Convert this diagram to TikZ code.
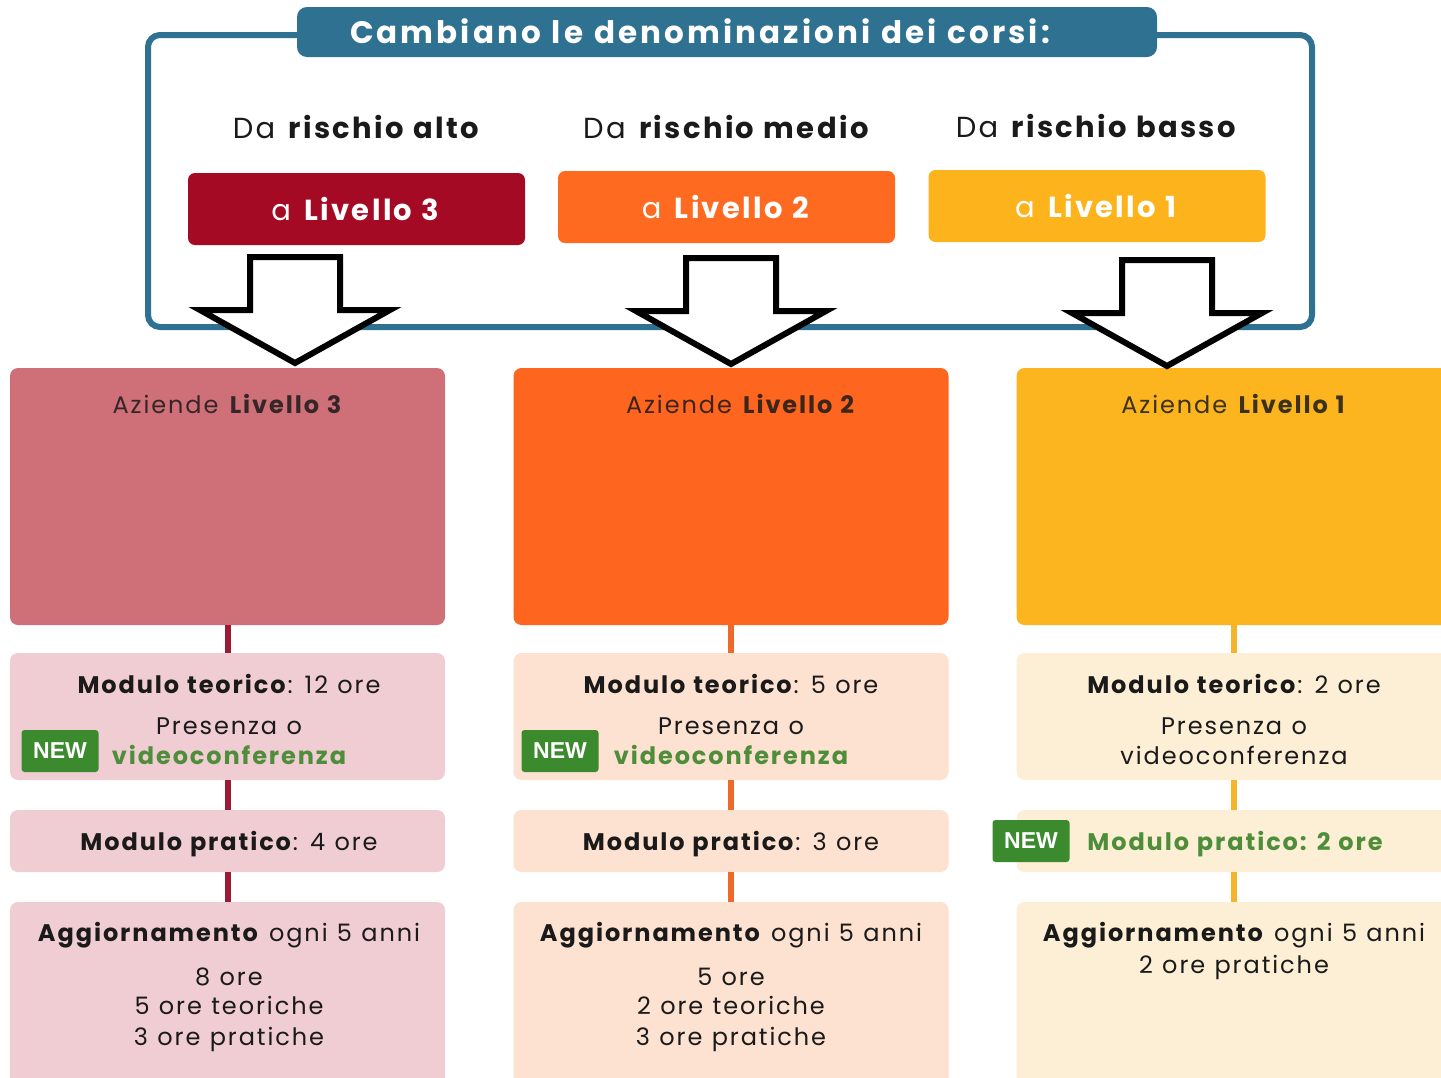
\documentclass[tikz,border=0pt]{standalone}
\usepackage{fontspec}
\setmainfont{Poppins}[LetterSpace=8, WordSpace=1.12]
\newfontfamily\badgefont{Liberation Sans}
\definecolor{frameblue}{HTML}{2E7191}
\definecolor{lvlred}{HTML}{A50A24}
\definecolor{lvlorange}{HTML}{FE6A20}
\definecolor{lvlyellow}{HTML}{FDB31C}
\definecolor{bigA}{HTML}{CF6F78}
\definecolor{bigB}{HTML}{FE651E}
\definecolor{bigC}{HTML}{FDB51F}
\definecolor{liteA}{HTML}{F0CDD3}
\definecolor{liteB}{HTML}{FDE1D1}
\definecolor{liteC}{HTML}{FDEFD6}
\definecolor{connA}{HTML}{9C1A33}
\definecolor{connB}{HTML}{EE6A2A}
\definecolor{connC}{HTML}{F5B52A}
\definecolor{newgreen}{HTML}{3B8A2E}
\definecolor{greentext}{HTML}{4E8E3A}
\definecolor{ink}{HTML}{1A1A1A}
\begin{document}
\begin{tikzpicture}[x=1pt,y=-1pt,
  lvl/.style={rounded corners=7pt, minimum width=337pt, minimum height=72pt, inner sep=0pt, text=white, font=\fontsize{29}{31}\selectfont},
  big/.style={rounded corners=8pt, minimum width=435pt, minimum height=257pt, inner sep=0pt},
  lite/.style={rounded corners=8pt, minimum width=435pt, inner sep=0pt},
  conn/.style={line width=6pt},
  txt/.style={inner sep=0pt, anchor=base, text=ink, font=\fontsize{24}{28}\selectfont},
  head/.style={inner sep=0pt, anchor=base, text=ink, font=\fontsize{29}{32}\selectfont},
  newb/.style={fill=newgreen, rounded corners=3pt, minimum width=77pt, minimum height=42pt, inner sep=0pt, text=white, font=\badgefont\bfseries\fontsize{23}{26}\selectfont},
  bigarrow/.style={draw=black, fill=white, line width=6pt, line join=miter},
]
\useasboundingbox[fill=white] (0,0) rectangle (1441,1077);

% frame and title
\draw[frameblue, line width=6pt, rounded corners=12pt] (148,35) rectangle (1312,327);
\node[fill=frameblue, rounded corners=10pt, minimum width=860pt, minimum height=50pt, inner sep=0pt] (titlebar) at (727,32) {};
\node[inner sep=0pt, anchor=base, text=white, font=\bfseries\fontsize{31}{33}\selectfont\addfontfeatures{LetterSpace=10}] (title) at (700,43) {Cambiano le denominazioni dei corsi:};

% headings
\node[head] (h1) at (357,138) {Da \textbf{rischio alto}};
\node[head] (h2) at (727,138) {Da \textbf{rischio medio}};
\node[head] (h3) at (1097,137) {Da \textbf{rischio basso}};

% level boxes
\node[lvl, fill=lvlred] (l3) at (356.5,209) {a \textbf{Livello 3}};
\node[lvl, fill=lvlorange] (l2) at (726.5,207) {a \textbf{Livello 2}};
\node[lvl, fill=lvlyellow] (l1) at (1097,206) {a \textbf{Livello 1}};

% big boxes
\node[big, fill=bigA] (bA) at (227.5,496.5) {};
\node[big, fill=bigB] (bB) at (731,496.5) {};
\node[big, fill=bigC] (bC) at (1234,496.5) {};
\node[txt, text=ink!85!bigA] (tA) at (228,413) {Aziende \textbf{Livello 3}};
\node[txt, text=ink!85!bigB] (tB) at (741,413) {Aziende \textbf{Livello 2}};
\node[txt, text=ink!85!bigC] (tC) at (1234,413) {Aziende \textbf{Livello 1}};

% arrows
\foreach \cx/\tp in {295/257, 731/258, 1167/260}
  \draw[bigarrow] (\cx-45,\tp) -- ++(90,0) -- ++(0,53) -- ++(50,0) -- (\cx,\tp+106) -- (\cx-95,\tp+53) -- ++(50,0) -- cycle;

% light boxes
\foreach \c/\x in {A/227.5, B/731, C/1234} {
  \node[lite, fill=lite\c, minimum height=127pt] (teo\c) at (\x,716.5) {};
  \node[lite, fill=lite\c, minimum height=62pt] (pra\c) at (\x,841) {};
  \node[lite, fill=lite\c, minimum height=188pt] (agg\c) at (\x,996) {};
}

% connectors
\foreach \c in {A,B,C} {
  \draw[conn, conn\c] (b\c.south) -- (teo\c.north);
  \draw[conn, conn\c] (teo\c.south) -- (pra\c.north);
  \draw[conn, conn\c] (pra\c.south) -- (agg\c.north);
}

% column 1
\node[txt] (a1) at (229,693) {\textbf{Modulo teorico}: 12 ore};
\node[txt] (a2) at (229,734) {Presenza o};
\node[txt, text=greentext, font=\bfseries\fontsize{24}{28}\selectfont] (a3) at (229,764) {videoconferenza};
\node[newb] (na) at (60,751) {NEW};
\node[txt] (a4) at (229,850) {\textbf{Modulo pratico}: 4 ore};
\node[txt] (a5) at (229,941) {\textbf{Aggiornamento} ogni 5 anni};
\node[txt] (a6) at (229,985) {8 ore};
\node[txt] (a7) at (229,1014) {5 ore teoriche};
\node[txt] (a8) at (229,1045) {3 ore pratiche};

% column 2
\node[txt] (b1) at (731,693) {\textbf{Modulo teorico}: 5 ore};
\node[txt] (b2) at (731,734) {Presenza o};
\node[txt, text=greentext, font=\bfseries\fontsize{24}{28}\selectfont] (b3) at (731,764) {videoconferenza};
\node[newb] (nb) at (560,751) {NEW};
\node[txt] (b4) at (731,850) {\textbf{Modulo pratico}: 3 ore};
\node[txt] (b5) at (731,941) {\textbf{Aggiornamento} ogni 5 anni};
\node[txt] (b6) at (731,985) {5 ore};
\node[txt] (b7) at (731,1014) {2 ore teoriche};
\node[txt] (b8) at (731,1045) {3 ore pratiche};

% column 3
\node[txt] (c1) at (1234,693) {\textbf{Modulo teorico}: 2 ore};
\node[txt] (c2) at (1234,734) {Presenza o};
\node[txt] (c3) at (1234,764) {videoconferenza};
\node[newb] (nc) at (1031,841) {NEW};
\node[txt, text=greentext, font=\bfseries\fontsize{24}{28}\selectfont] (c4) at (1235,850) {Modulo pratico: 2 ore};
\node[txt] (c5) at (1234,941) {\textbf{Aggiornamento} ogni 5 anni};
\node[txt] (c6) at (1234,973) {2 ore pratiche};
\end{tikzpicture}
\end{document}
